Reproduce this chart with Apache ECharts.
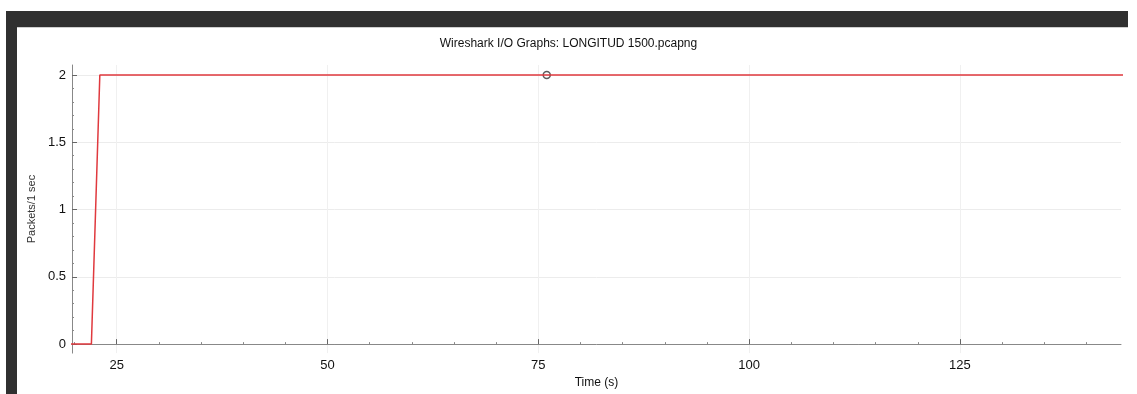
<!DOCTYPE html>
<html>
<head>
  <meta charset="utf-8">
  <style>
    html, body { margin: 0; padding: 0; background: #fff; }
    #main { width: 1137px; height: 394px; }
  </style>
</head>
<body>
  <div id="main"></div>
  <script src="https://cdn.jsdelivr.net/npm/echarts@6/dist/echarts.min.js"></script>
  <script>
    // packets per 1 sec interval
    var times = [0, 19, 20, 21, 22, 23, 24, 50, 76, 100, 125, 145];
    var packets = [0, 0, 0, 0, 0, 2, 2, 2, 2, 2, 2, 2];
    // selected point shown with a ring
    var selTime = [76];
    var selValue = [2];

    var xMajor = [25, 50, 75, 100, 125];
    var xMinor = [20, 30, 35, 40, 45, 55, 60, 65, 70, 80, 85, 90, 95, 105, 110, 115, 120, 130, 135, 140];
    var yMajor = [0, 0.5, 1, 1.5, 2];
    var yMinor = [0.1, 0.2, 0.3, 0.4, 0.6, 0.7, 0.8, 0.9, 1.1, 1.2, 1.3, 1.4, 1.6, 1.7, 1.8, 1.9];

    var xMin = 19.7, xMax = 144.1;
    var yMin = -0.0667, yMax = 2.074;

    var font = '"Liberation Sans", Arial, sans-serif';
    var chart = echarts.init(document.getElementById('main'));

    chart.setOption({
      animation: false,
      backgroundColor: '#fff',
      title: {
        text: 'Wireshark I/O Graphs: LONGITUD 1500.pcapng',
        left: 'center',
        top: 33,
        textStyle: { fontSize: 12, fontWeight: 'normal', color: '#111', fontFamily: font }
      },
      graphic: [
        { type: 'rect', shape: { x: 6, y: 11, width: 1122, height: 16 }, style: { fill: '#303030' }, silent: true },
        { type: 'rect', shape: { x: 6, y: 11, width: 11, height: 383 }, style: { fill: '#303030' }, silent: true },
        { type: 'rect', shape: { x: 17, y: 27, width: 1111, height: 1 }, style: { fill: '#cfcfcf' }, silent: true }
      ],
      grid: { left: 72, right: 16, top: 65, bottom: 40 },
      xAxis: [{
        type: 'value',
        min: xMin,
        max: xMax,
        name: 'Time (s)',
        nameLocation: 'middle',
        nameGap: 23,
        nameTextStyle: { fontSize: 12, color: '#111', fontFamily: font },
        axisLine: { lineStyle: { color: '#888', width: 1 } },
        axisTick: { inside: true, length: 5, customValues: xMajor, lineStyle: { color: '#666' } },
        axisLabel: { customValues: xMajor, color: '#111', fontSize: 13, margin: 6, fontFamily: font },
        splitLine: { show: true, lineStyle: { color: '#f0f0f0', width: 1 } }
      }, {
        type: 'value',
        min: xMin,
        max: xMax,
        position: 'bottom',
        axisLine: { show: false },
        axisTick: { inside: true, length: 2, customValues: xMinor, lineStyle: { color: '#888' } },
        axisLabel: { show: false },
        splitLine: { show: false }
      }],
      yAxis: [{
        type: 'value',
        min: yMin,
        max: yMax,
        name: 'Packets/1 sec',
        nameLocation: 'middle',
        nameGap: 34,
        nameTextStyle: { fontSize: 11, color: '#333', fontFamily: font },
        axisLine: { show: true, lineStyle: { color: '#888', width: 1 } },
        axisTick: { show: true, inside: true, length: 5, customValues: yMajor, lineStyle: { color: '#666' } },
        axisLabel: { customValues: yMajor, color: '#111', fontSize: 13, margin: 6, fontFamily: font },
        splitLine: { show: true, lineStyle: { color: '#ececec', width: 1 } }
      }, {
        type: 'value',
        min: yMin,
        max: yMax,
        position: 'left',
        axisLine: { show: false },
        axisTick: { show: true, inside: true, length: 2, customValues: yMinor, lineStyle: { color: '#888' } },
        axisLabel: { show: false },
        splitLine: { show: false }
      }],
      series: [{
        type: 'line',
        xAxisIndex: 0,
        yAxisIndex: 0,
        data: times.map(function (t, i) { return [t, packets[i]]; }),
        showSymbol: false,
        clip: true,
        lineStyle: { color: '#e0393e', width: 1.5 }
      }, {
        type: 'scatter',
        xAxisIndex: 0,
        yAxisIndex: 0,
        data: selTime.map(function (t, i) { return [t, selValue[i]]; }),
        symbol: 'circle',
        symbolSize: 7,
        itemStyle: { color: 'rgba(255,255,255,0)', borderColor: '#333', borderWidth: 1.5 }
      }]
    });
  </script>
</body>
</html>
